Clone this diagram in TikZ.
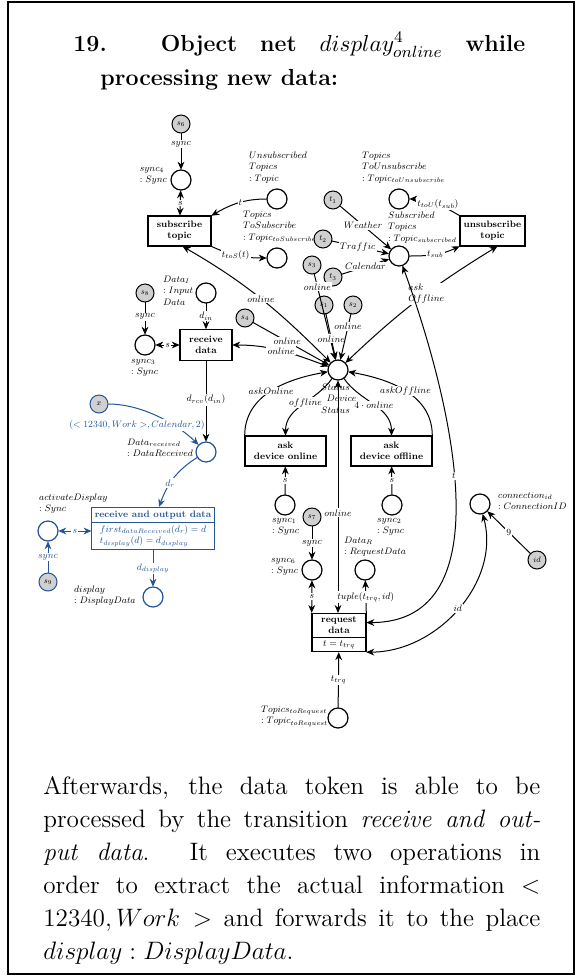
\RequirePackage{fix-cm}
\documentclass[tikz,border=0pt]{standalone}
\usepackage{amsmath}
\usetikzlibrary{shapes,arrows.meta,positioning}
\definecolor{netblue}{RGB}{35,85,150}
\definecolor{tokengray}{RGB}{208,208,208}
\newcommand{\netfont}{\fontsize{9.4}{11.2}\selectfont}

\begin{document}
\begin{tikzpicture}[x=0.5pt, y=0.5pt,
    place/.style={circle, draw, line width=.6pt, minimum size=20pt, inner sep=0pt},
    token/.style={circle, draw, line width=.5pt, fill=tokengray, minimum size=18pt, inner sep=0pt, font=\fontsize{8}{8}\selectfont},
    trans/.style={rectangle, draw, line width=.6pt, align=center, inner sep=3pt, font=\netfont\bfseries},
    lbl/.style={fill=white, inner sep=1.2pt, font=\netfont},
    plabel/.style={align=left, inner sep=0pt, font=\netfont},
    arc/.style={-{Stealth[length=4pt,width=3.4pt]}, line width=.5pt},
    biarc/.style={{Stealth[length=4pt,width=3.4pt]}-{Stealth[length=4pt,width=3.4pt]}, line width=.5pt},
    hl/.style={draw=netblue, text=netblue}
]
    \useasboundingbox (0,0) rectangle (582,-976);
    \draw[line width=.6pt] (8,-2) rectangle (574,-974);

    % heading
    \node[anchor=base west, inner sep=0pt, font=\fontsize{11.6}{14}\selectfont\bfseries] (head1) at (73,-51)
        {\makebox[226pt][s]{19. Object net $display^{4}_{online}$ while}};
    \node[anchor=base west, inner sep=0pt, font=\fontsize{11.6}{14}\selectfont\bfseries] (head2) at (100,-85)
        {processing new data:};

    % the net is set at double size and shrunk
    \begin{scope}[x=1pt, y=1pt, scale=.5, transform shape]
    % tokens
    \node[token] (s6) at (181,-124) {$s_6$};
    \node[token] (s8) at (145,-293) {$s_8$};
    \node[token] (s4) at (245,-318) {$s_4$};
    \node[token] (s3) at (312,-265) {$s_3$};
    \node[token] (s1) at (324,-305) {$s_1$};
    \node[token] (s2) at (353,-305) {$s_2$};
    \node[token] (t1) at (333,-200) {$t_1$};
    \node[token] (t2) at (323,-239) {$t_2$};
    \node[token] (t3) at (333,-277) {$t_3$};
    \node[token] (s7) at (312,-517) {$s_7$};
    \node[token, draw=netblue] (s9) at (48,-582) {$s_9$};
    \node[token, draw=netblue] (x) at (99,-404) {$x$};
    \node[token] (id) at (537,-560) {$id$};

    % places
    \node[place] (sync4) at (181,-180) {};
    \node[place] (unsub) at (277,-199) {};
    \node[place] (tosub) at (277,-258) {};
    \node[place] (tounsub) at (399,-199) {};
    \node[place] (subscribed) at (399,-256) {};
    \node[place] (datain) at (206,-293) {};
    \node[place] (sync3) at (145,-345) {};
    \node[place] (status) at (338,-370) {};
    \node[place, draw=netblue] (datarec) at (206,-452) {};
    \node[place, draw=netblue] (actdisp) at (48,-531) {};
    \node[place, draw=netblue] (display) at (153,-597) {};
    \node[place] (sync1) at (285,-505) {};
    \node[place] (sync2) at (392,-505) {};
    \node[place] (sync6) at (312,-570) {};
    \node[place] (dataR) at (365,-570) {};
    \node[place] (torequest) at (338,-718) {};
    \node[place] (connid) at (480,-504) {};

    % transitions
    \node[trans, minimum width=63pt, minimum height=30pt] (subscribe) at (179.5,-231) {subscribe\\topic};
    \node[trans, minimum width=65pt, minimum height=30pt] (unsubscribe) at (492.5,-231) {unsubscribe\\topic};
    \node[trans, minimum width=52pt, minimum height=31pt] (receive) at (206,-345) {receive\\data};
    \node[trans, minimum width=81pt, minimum height=30pt] (askon) at (285.5,-451) {ask\\device online};
    \node[trans, minimum width=81pt, minimum height=30pt] (askoff) at (391.5,-451) {ask\\device offline};
    \node[trans, hl, align=left, rectangle split, rectangle split parts=2, minimum width=120pt, anchor=north] (recout) at (153,-507)
        {receive and output data\nodepart{second}\mdseries$first_{dataReceived}(d_r)=d$\\$t_{display}(d)=d_{display}$};
    \node[trans, rectangle split, rectangle split parts=2, minimum width=54pt, anchor=north] (request) at (339,-613)
        {request\\data\nodepart{second}\mdseries$t=t_{trq}$};

    % place inscriptions
    \node[plabel, anchor=north east] (sync4l) at (167,-167) {$sync_4$\\$:Sync$};
    \node[plabel, anchor=north west] (unsubl) at (249,-152) {$Unsubscribed$\\$Topics$\\$:Topic$};
    \node[plabel, anchor=north west] (tosubl) at (243,-211) {$Topics$\\$ToSubscribe$\\$:Topic_{toSubscribe}$};
    \node[plabel, anchor=north west] (tounsubl) at (362,-152) {$Topics$\\$ToUnsubscribe$\\$:Topic_{toUnsubscribe}$};
    \node[plabel, anchor=north west] (subscribedl) at (388,-212) {$Subscribed$\\$Topics$\\$:Topic_{subscribed}$};
    \node[plabel, anchor=north west] (datainl) at (163,-276) {$Data_I$\\$:Input$\\$Data$};
    \node[plabel, anchor=north west] (sync3l) at (131,-359) {$sync_3$\\$:Sync$};
    \node[plabel, anchor=north west] (statusl) at (321,-384) {$Status$\\$:Device$\\$Status$};
    \node[plabel, anchor=north west] (datarecl) at (127,-439) {$Data_{received}$\\$:DataReceived$};
    \node[plabel, anchor=north west] (actdispl) at (39,-494) {$activateDisplay$\\$:Sync$};
    \node[plabel, anchor=north west] (displayl) at (74,-586) {$display$\\$:DisplayData$};
    \node[plabel, anchor=north west] (sync1l) at (272,-518) {$sync_1$\\$:Sync$};
    \node[plabel, anchor=north west] (sync2l) at (377,-518) {$sync_2$\\$:Sync$};
    \node[plabel, anchor=north west] (sync6l) at (271,-558) {$sync_6$\\$:Sync$};
    \node[plabel, anchor=north west] (dataRl) at (344,-537) {$Data_R$\\$:RequestData$};
    \node[plabel, anchor=north west] (torequestl) at (261,-706) {$Topics_{toRequest}$\\$:Topic_{toRequest}$};
    \node[plabel, anchor=north west] (connidl) at (498,-492) {$connection_{id}$\\$:ConnectionID$};

    % arcs of the topic part
    \draw[arc] (s6) -- node[lbl, pos=.3] {$sync$} (sync4);
    \draw[biarc] (sync4) -- node[lbl] {$s$} (subscribe);
    \draw[arc] (unsub) to[out=180, in=30] node[lbl, pos=.45] {$t$} (subscribe.north east);
    \draw[arc] (subscribe.south east) to[out=-25, in=180] node[lbl, pos=.45] {$t_{toS}(t)$} (tosub);
    \draw[biarc] ([xshift=3pt]subscribe.south) to[out=-30, in=135] node[lbl, pos=.5] {$online$} (status);
    \draw[arc] (unsubscribe.north west) to[out=150, in=0] node[lbl, pos=.45] {$t_{toU}(t_{sub})$} (tounsub);
    \draw[arc] (subscribed) to[out=0, in=205] node[lbl, pos=.5] {$t_{sub}$} (unsubscribe.south west);
    \draw[biarc] (status) to[bend left=6] node[lbl, align=left, pos=.56] {$ask$\\$Offline$} ([xshift=5pt]unsubscribe.south);
    \draw[arc] (t1) -- node[lbl, pos=.45] {$Weather$} (subscribed);
    \draw[arc] (t2) -- node[lbl, pos=.45] {$Traffic$} (subscribed);
    \draw[arc] (t3) -- node[lbl, pos=.5] {$Calendar$} (subscribed);

    % arcs round the device status
    \draw[arc] (s8) -- node[lbl, pos=.45] {$sync$} (sync3);
    \draw[biarc] (sync3) -- node[lbl] {$s$} (receive);
    \draw[arc] (datain) -- node[lbl] {$d_{in}$} (receive);
    \draw[arc] (receive) -- node[lbl, pos=.48] {$d_{rcv}(d_{in})$} (datarec);
    \draw[arc] (s4) -- node[lbl, pos=.45] {$online$} (status);
    \draw[biarc] (receive) to[out=0, in=160] node[lbl, pos=.5] {$online$} (status);
    \draw[arc] (s3) -- node[lbl, pos=.15] {$online$} (status);
    \draw[arc] (s1) -- node[lbl, pos=.54] {$online$} (status);
    \draw[arc] (s2) -- node[lbl, pos=.27] {$online$} (status);
    \draw[arc] (askon.north west) to[out=90, in=190] node[lbl, pos=.5] {$askOnline$} (status);
    \draw[arc] (status) to[out=235, in=90] node[lbl, pos=.45] {$offline$} (askon);
    \draw[arc] (status) to[out=-55, in=90] node[lbl, pos=.5] {$4\cdot online$} (askoff);
    \draw[arc] (askoff.north east) to[out=90, in=-10] node[lbl, pos=.5] {$askOffline$} (status);
    \draw[biarc] (status) -- node[lbl, pos=.57] {$online$} (status |- request.north);
    \draw[arc] (sync1) -- node[lbl] {$s$} (askon);
    \draw[arc] (sync2) -- node[lbl] {$s$} (askoff);

    % arcs of the request part
    \draw[arc] (s7) -- node[lbl] {$sync$} (sync6);
    \draw[biarc] (sync6) -- node[lbl] {$s$} (request.north west);
    \draw[arc] (request.north east) -- node[lbl] {$tuple(t_{trq},id)$} (dataR);
    \draw[arc] (torequest) -- node[lbl] {$t_{trq}$} (request);
    \draw[biarc] (subscribed) to[out=-70, in=0] node[lbl, pos=.46] {$t$} ([yshift=10pt]request.east);
    \draw[biarc] (request.south east) to[out=0, in=-75] node[lbl, pos=.5] {$id$} (connid);
    \draw[arc] (id) -- node[lbl] {$9$} (connid);

    % firing of receive and output data
    \draw[arc, netblue] (x) .. controls (140,-404) and (175,-422) .. (datarec);
    \node[lbl, text=netblue] (xval) at (137,-425) {$(<12340, Work>, Calendar, 2)$};
    \draw[arc, netblue] (datarec) to[out=212, in=70] node[lbl, pos=.6] {$d_r$} ([xshift=6pt]recout.north);
    \draw[biarc, netblue] (actdisp) -- node[lbl] {$s$} (actdisp -| recout.west);
    \draw[arc, netblue] (s9) -- node[lbl] {$sync$} (actdisp);
    \draw[arc, netblue] (recout) -- node[lbl] {$d_{display}$} (display);
    \end{scope}

    % explanation
    \node[anchor=north west, text width=248.5pt, align=justify, inner sep=0pt, font=\fontsize{12.6}{16.5}\selectfont] (txt) at (43,-776)
        {Afterwards, the data token is able to be\linebreak
         processed by the transition \emph{receive and out-}\linebreak
         \emph{put data}.  It executes two operations in\linebreak
         order to extract the actual information $<$\linebreak
         $12340, Work>$ and forwards it to the place\linebreak
         $display:DisplayData$.};
\end{tikzpicture}
\end{document}
